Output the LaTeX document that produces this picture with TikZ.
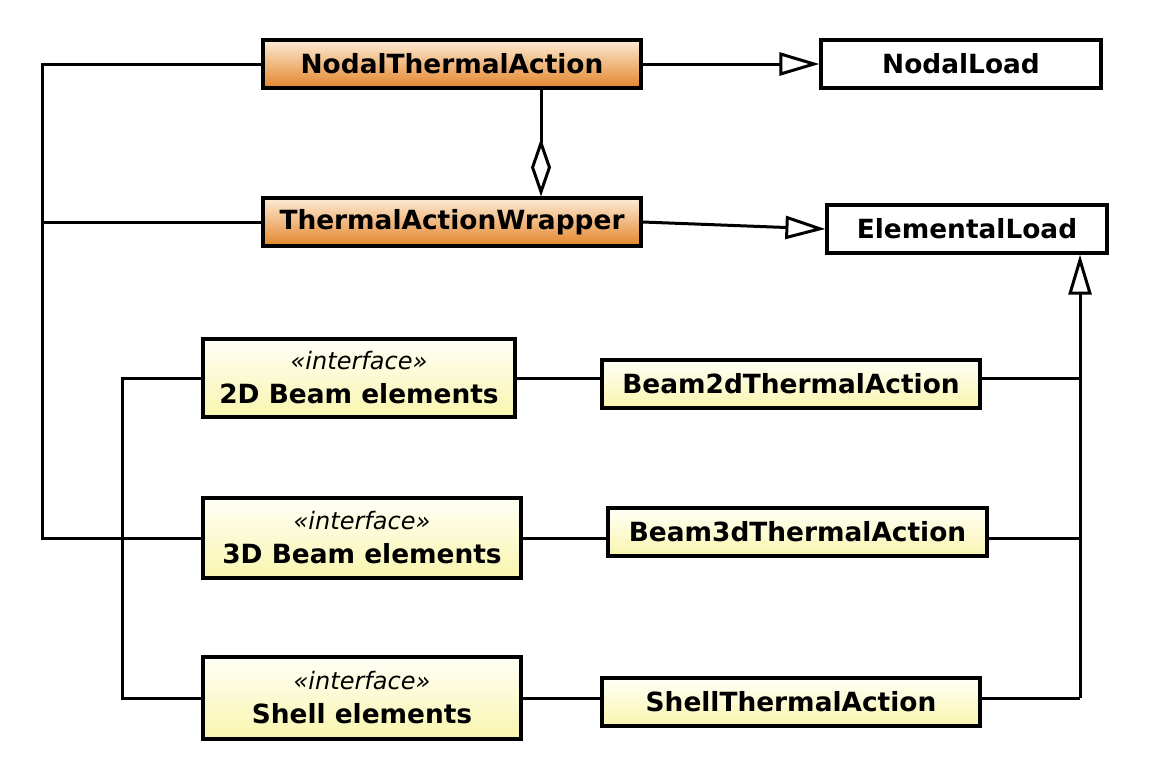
\documentclass[tikz,border=0pt]{standalone}
\usepackage{fontspec}
\setmainfont{DejaVu Sans}
\usetikzlibrary{arrows.meta,shadows}
\definecolor{orTop}{HTML}{FDEBD6}
\definecolor{orBot}{HTML}{E3852A}
\definecolor{ylTop}{HTML}{FFFFF6}
\definecolor{ylBot}{HTML}{F9F5AE}
\tikzset{
  cls/.style={draw, line width=1.6pt, inner sep=0pt, minimum height=24pt,
    font=\bfseries\fontsize{13.2}{15}\selectfont, align=center,
    drop shadow={shadow xshift=0.3pt, shadow yshift=-0.8pt, opacity=0.7, fill=black}},
  orcls/.style={cls, top color=orTop, bottom color=orBot},
  ylcls/.style={cls, top color=ylTop, bottom color=ylBot},
  whcls/.style={cls, fill=white, drop shadow={opacity=0}},
  iface/.style={ylcls, minimum height=39pt},
  conn/.style={line width=1.5pt},
  inherit/.style={conn, -{Triangle[open, length=20pt, width=11.5pt, line width=1.5pt]}},
  aggr/.style={conn, -{Diamond[open, length=29pt, width=10pt, line width=1.5pt]}}
}
\newcommand{\ifc}[1]{{\mdseries\itshape\fontsize{12}{13}\selectfont «interface»}\\[2pt] #1}
\begin{document}
\begin{tikzpicture}[x=0.5pt, y=-0.5pt]
\useasboundingbox (0,0) rectangle (1170,766);
% top classes
\node[orcls, minimum width=189pt] (nta) at (452,64) {NodalThermalAction};
\node[whcls, minimum width=140pt] (nl) at (961,64) {NodalLoad};
\node[orcls, minimum width=189pt] (taw) at (452,222) {ThermalActionWrapper};
\node[whcls, minimum width=140pt] (el) at (967,229) {ElementalLoad};
% interfaces and element actions
\node[iface, minimum width=156pt] (b2i) at (359,378) {\ifc{2D Beam elements}};
\node[ylcls, minimum width=189pt] (b2) at (791,384) {Beam2dThermalAction};
\node[iface, minimum width=159pt, minimum height=40pt] (b3i) at (362,538) {\ifc{3D Beam elements}};
\node[ylcls, minimum width=189.5pt] (b3) at (797.5,532) {Beam3dThermalAction};
\node[iface, minimum width=159pt, minimum height=41pt] (shi) at (362,698) {\ifc{Shell elements}};
\node[ylcls, minimum width=189pt] (sh) at (791,702) {ShellThermalAction};
% bus lines
\coordinate (lft) at (42,0);
\coordinate (mid) at (122,0);
\coordinate (rgt) at (1080,0);
\coordinate (dia) at (541,0);
\draw[conn] (nta.west) -- (nta.west -| lft) |- (b3i.west);
\draw[conn] (taw.west) -- (taw.west -| lft);
\draw[conn] (b2i.west) -- (b2i.west -| mid) |- (shi.west);
% generalisation and aggregation
\draw[inherit] (nta.east) -- (nl.west);
\draw[inherit] (taw.east) -- (el.west);
\draw[aggr] (nta.south -| dia) -- (taw.north -| dia);
\foreach \i/\c in {b2i/b2, b3i/b3, shi/sh}{
  \draw[conn] (\i.east) -- (\i.east -| \c.west);
  \draw[conn] (\i.east -| \c.east) -- (\i.east -| rgt);
}
\draw[inherit] (shi.east -| rgt) -- (el.south -| rgt);
\end{tikzpicture}
\end{document}
